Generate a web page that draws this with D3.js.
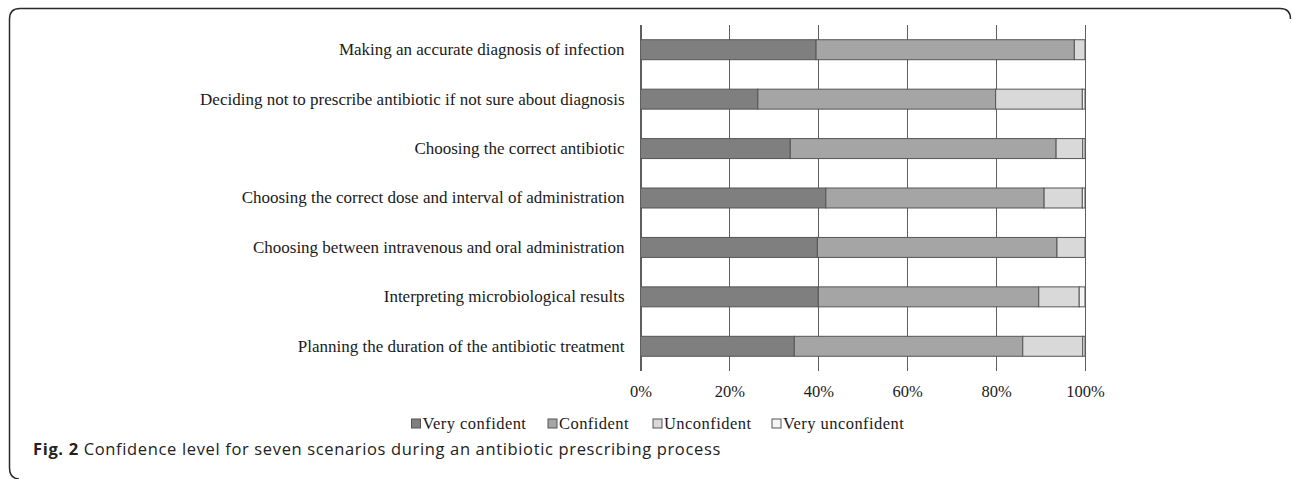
<!DOCTYPE html>
<html>
<head>
<meta charset="utf-8">
<script src="https://cdn.jsdelivr.net/npm/d3@7"></script>
<style>
  body { margin: 0; background: #fff; }
  svg { display: block; }
</style>
</head>
<body>
<svg id="chart" width="1292" height="479"></svg>
<script>
// scenarios, top to bottom
var scenarios = [
  "Making an accurate diagnosis of infection",
  "Deciding not to prescribe antibiotic if not sure about diagnosis",
  "Choosing the correct antibiotic",
  "Choosing the correct dose and interval of administration",
  "Choosing between intravenous and oral administration",
  "Interpreting microbiological results",
  "Planning the duration of the antibiotic treatment"
];
var levels = ["Very confident", "Confident", "Unconfident", "Very unconfident"];

// percent of respondents
var veryConfident   = [39.5, 26.4, 33.7, 41.7, 39.8, 40.0, 34.6];
var confident       = [58.1, 53.5, 59.8, 49.1, 53.9, 49.6, 51.4];
var unconfident     = [2.4, 19.5, 6.0, 8.6, 6.3, 9.1, 13.5];
var veryUnconfident = [0.0, 0.6, 0.5, 0.6, 0.0, 1.3, 0.5];

var xTicks = [0, 20, 40, 60, 80, 100];
var caption = "Confidence level for seven scenarios during an antibiotic prescribing process";

var colors = ["#7f7f7f", "#a5a5a5", "#d9d9d9", "#f4f4f4"];

var svg = d3.select("#chart");

var MARGINS = { top: 25, left: 640.5, right: 1085, bottom: 371 };

// frame of the figure
svg.append("path")
  .attr("d", "M1290.5,19 Q1290.5,8.5 1280,8.5 L20,8.5 Q9.5,8.5 9.5,19 L9.5,468 Q9.5,478.5 19,479")
  .attr("fill", "none")
  .attr("stroke", "#2b2b2b")
  .attr("stroke-width", 1.5);

var table = scenarios.map(function(s, i) {
  return { scenario: s, "Very confident": veryConfident[i], "Confident": confident[i],
           "Unconfident": unconfident[i], "Very unconfident": veryUnconfident[i] };
});
var stacked = d3.stack().keys(levels)(table);

var xScale = d3.scaleLinear().domain([0, 100]).range([MARGINS.left, MARGINS.right]);
var yScale = d3.scaleBand().domain(scenarios)
  .range([MARGINS.top, MARGINS.bottom])
  .paddingInner(0.596).paddingOuter(0.298);

// gridlines + tick labels
var xAxis = d3.axisBottom(xScale)
  .tickValues(xTicks)
  .tickFormat(function(d) { return d + "%"; })
  .tickSize(-(MARGINS.bottom - MARGINS.top))
  .tickPadding(14);

var gx = svg.append("g")
  .attr("transform", "translate(0," + MARGINS.bottom + ")")
  .call(xAxis);
gx.select(".domain").remove();
gx.selectAll("line").attr("stroke", "#5e5e5e").attr("shape-rendering", "crispEdges");
gx.selectAll("text")
  .attr("font-family", "'Liberation Serif', serif")
  .attr("font-size", 16.5)
  .attr("fill", "#1a1a1a");

// bars
svg.append("g").selectAll("g")
  .data(stacked)
  .enter().append("g")
  .attr("fill", function(d, i) { return colors[i]; })
  .selectAll("rect")
  .data(function(d) { return d; })
  .enter().append("rect")
  .attr("x", function(d) { return xScale(d[0]); })
  .attr("width", function(d) { return xScale(d[1]) - xScale(d[0]); })
  .attr("y", function(d) { return yScale(d.data.scenario); })
  .attr("height", yScale.bandwidth())
  .attr("stroke", "#555")
  .attr("stroke-width", 1);

// category labels
var yAxis = d3.axisLeft(yScale).tickSize(0).tickPadding(16);
var gy = svg.append("g")
  .attr("transform", "translate(" + MARGINS.left + ",0)")
  .call(yAxis);
gy.select(".domain").remove();
gy.selectAll("text")
  .attr("font-family", "'Liberation Serif', serif")
  .attr("font-size", 17)
  .attr("fill", "#1a1a1a");

// y axis line on top
svg.append("line")
  .attr("x1", xScale(0)).attr("x2", xScale(0))
  .attr("y1", MARGINS.top).attr("y2", MARGINS.bottom)
  .attr("stroke", "#5e5e5e")
  .attr("shape-rendering", "crispEdges");

// legend
var legendX = [411.5, 548, 653, 772];
var legend = svg.append("g").selectAll("g")
  .data(levels)
  .enter().append("g")
  .attr("transform", function(d, i) { return "translate(" + legendX[i] + ",419)"; });
legend.append("rect")
  .attr("width", 9).attr("height", 9)
  .attr("fill", function(d, i) { return colors[i]; })
  .attr("stroke", "#555");
legend.append("text")
  .attr("x", 11)
  .attr("y", 10)
  .attr("font-family", "'Liberation Serif', serif")
  .attr("font-size", 16.5)
  .attr("letter-spacing", 0.45)
  .attr("fill", "#1a1a1a")
  .text(function(d) { return d; });

// caption
var cap = svg.append("text")
  .attr("x", 33)
  .attr("y", 455)
  .attr("font-family", "'Open Sans', sans-serif")
  .attr("font-size", 16.5)
  .attr("letter-spacing", 0.65)
  .attr("fill", "#222");
cap.append("tspan").attr("font-weight", "bold").text("Fig. 2");
cap.append("tspan").text(" " + caption);
</script>
</body>
</html>
